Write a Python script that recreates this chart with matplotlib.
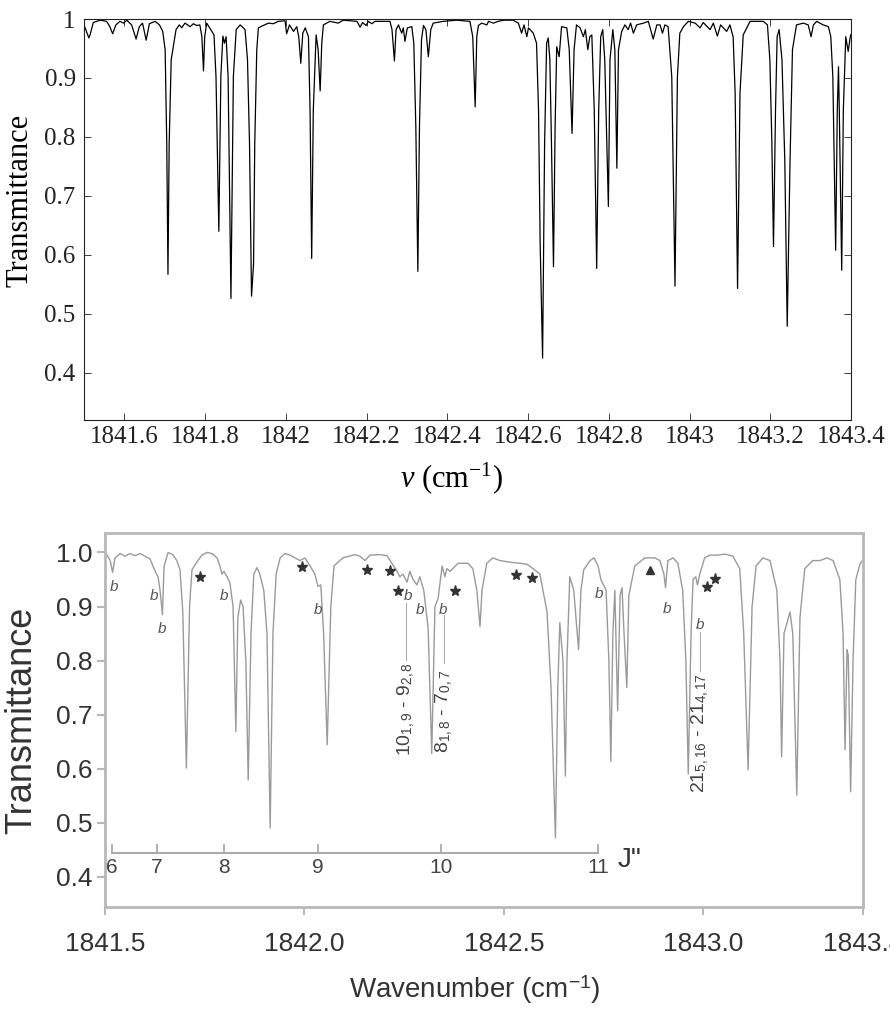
import numpy as np
import matplotlib
matplotlib.use("Agg")
import matplotlib.pyplot as plt

plt.rcParams['mathtext.fontset'] = 'custom'
plt.rcParams['mathtext.rm'] = 'Liberation Sans'
plt.rcParams['mathtext.it'] = 'Liberation Serif:italic'

# ---- top panel: simulated transmittance ----
nu_top = [1841.500, 1841.512, 1841.515, 1841.523, 1841.540, 1841.556, 1841.564, 1841.571, 1841.579, 1841.589,
          1841.598, 1841.606, 1841.618, 1841.629, 1841.637, 1841.645, 1841.654, 1841.662, 1841.676, 1841.687,
          1841.695, 1841.701, 1841.705, 1841.708, 1841.711, 1841.716, 1841.721, 1841.728, 1841.736, 1841.742,
          1841.750, 1841.763, 1841.771, 1841.779, 1841.787, 1841.792, 1841.796, 1841.799, 1841.804, 1841.814,
          1841.822, 1841.827, 1841.834, 1841.839, 1841.844, 1841.848, 1841.852, 1841.857, 1841.864, 1841.870,
          1841.877, 1841.887, 1841.899, 1841.905, 1841.910, 1841.915, 1841.920, 1841.923, 1841.928, 1841.932,
          1841.944, 1841.957, 1841.969, 1841.981, 1841.998, 1842.002, 1842.009, 1842.019, 1842.027, 1842.032,
          1842.037, 1842.042, 1842.048, 1842.056, 1842.060, 1842.064, 1842.068, 1842.075, 1842.080, 1842.085,
          1842.089, 1842.093, 1842.109, 1842.130, 1842.142, 1842.176, 1842.184, 1842.190, 1842.199, 1842.204,
          1842.213, 1842.221, 1842.258, 1842.263, 1842.269, 1842.273, 1842.279, 1842.287, 1842.291, 1842.295,
          1842.301, 1842.312, 1842.317, 1842.322, 1842.327, 1842.331, 1842.336, 1842.341, 1842.347, 1842.353,
          1842.359, 1842.365, 1842.390, 1842.423, 1842.456, 1842.463, 1842.469, 1842.473, 1842.477, 1842.485,
          1842.498, 1842.502, 1842.514, 1842.526, 1842.539, 1842.563, 1842.576, 1842.584, 1842.590, 1842.597,
          1842.601, 1842.605, 1842.613, 1842.621, 1842.626, 1842.630, 1842.636, 1842.641, 1842.646, 1842.650,
          1842.654, 1842.658, 1842.663, 1842.667, 1842.671, 1842.677, 1842.683, 1842.696, 1842.702, 1842.709,
          1842.714, 1842.720, 1842.729, 1842.737, 1842.742, 1842.748, 1842.753, 1842.758, 1842.764, 1842.770,
          1842.775, 1842.780, 1842.785, 1842.790, 1842.799, 1842.803, 1842.810, 1842.815, 1842.820, 1842.824,
          1842.832, 1842.840, 1842.848, 1842.854, 1842.861, 1842.869, 1842.886, 1842.898, 1842.910, 1842.919,
          1842.927, 1842.933, 1842.939, 1842.947, 1842.956, 1842.964, 1842.970, 1842.976, 1842.985, 1842.997,
          1843.014, 1843.026, 1843.034, 1843.051, 1843.059, 1843.069, 1843.077, 1843.092, 1843.100, 1843.108,
          1843.113, 1843.119, 1843.125, 1843.133, 1843.150, 1843.183, 1843.193, 1843.199, 1843.204, 1843.208,
          1843.213, 1843.217, 1843.222, 1843.229, 1843.236, 1843.242, 1843.249, 1843.255, 1843.265, 1843.282,
          1843.294, 1843.301, 1843.307, 1843.315, 1843.331, 1843.344, 1843.350, 1843.355, 1843.362, 1843.366,
          1843.369, 1843.371, 1843.377, 1843.381, 1843.387, 1843.393, 1843.399]
T_top = [0.990, 0.968, 0.973, 0.994, 0.998, 0.996, 0.987, 0.975, 0.990, 0.996,
         0.993, 0.998, 0.990, 0.966, 0.987, 0.993, 0.964, 0.992, 0.996, 0.990,
         0.979, 0.948, 0.789, 0.567, 0.789, 0.931, 0.952, 0.982, 0.990, 0.985,
         0.993, 0.987, 0.992, 0.989, 0.990, 0.970, 0.912, 0.970, 0.993, 0.982,
         0.973, 0.902, 0.640, 0.902, 0.971, 0.959, 0.970, 0.902, 0.526, 0.902,
         0.982, 0.990, 0.982, 0.931, 0.789, 0.530, 0.584, 0.789, 0.948, 0.985,
         0.989, 0.993, 0.992, 0.996, 0.997, 0.975, 0.990, 0.979, 0.987, 0.970,
         0.925, 0.976, 0.985, 0.970, 0.845, 0.594, 0.845, 0.973, 0.948, 0.878,
         0.959, 0.990, 0.996, 0.993, 0.998, 0.996, 0.986, 0.994, 0.989, 0.996,
         0.992, 0.996, 0.996, 0.982, 0.929, 0.982, 0.990, 0.976, 0.985, 0.962,
         0.985, 0.987, 0.959, 0.817, 0.572, 0.817, 0.965, 0.989, 0.982, 0.936,
         0.982, 0.993, 0.996, 0.998, 0.996, 0.970, 0.851, 0.970, 0.989, 0.993,
         0.990, 0.996, 0.993, 0.996, 0.998, 0.998, 0.993, 0.976, 0.990, 0.970,
         0.985, 0.982, 0.976, 0.959, 0.845, 0.618, 0.425, 0.789, 0.959, 0.968,
         0.931, 0.789, 0.580, 0.817, 0.953, 0.936, 0.987, 0.985, 0.948, 0.806,
         0.948, 0.990, 0.985, 0.970, 0.982, 0.948, 0.970, 0.973, 0.845, 0.577,
         0.845, 0.970, 0.982, 0.931, 0.682, 0.931, 0.982, 0.948, 0.747, 0.948,
         0.979, 0.990, 0.982, 0.993, 0.976, 0.990, 0.993, 0.996, 0.966, 0.990,
         0.990, 0.976, 0.990, 0.987, 0.902, 0.547, 0.902, 0.976, 0.987, 0.996,
         0.993, 0.985, 0.994, 0.982, 0.993, 0.971, 0.990, 0.979, 0.990, 0.970,
         0.874, 0.543, 0.874, 0.973, 0.996, 0.996, 0.990, 0.931, 0.789, 0.614,
         0.845, 0.970, 0.982, 0.931, 0.760, 0.479, 0.760, 0.948, 0.990, 0.993,
         0.990, 0.970, 0.990, 0.996, 0.990, 0.987, 0.970, 0.902, 0.608, 0.845,
         0.919, 0.845, 0.574, 0.845, 0.970, 0.945, 0.973]

top_xticks = [1841.6, 1841.8, 1842.0, 1842.2, 1842.4, 1842.6, 1842.8, 1843.0, 1843.2, 1843.4]
top_xticklabels = ['1841.6', '1841.8', '1842', '1842.2', '1842.4', '1842.6', '1842.8', '1843', '1843.2', '1843.4']
top_yticks = [0.4, 0.5, 0.6, 0.7, 0.8, 0.9, 1.0]
top_yticklabels = ['0.4', '0.5', '0.6', '0.7', '0.8', '0.9', '1']

# ---- bottom panel: measured transmittance ----
nu_bot = [1841.500, 1841.503, 1841.513, 1841.519, 1841.525, 1841.538, 1841.550, 1841.563, 1841.575, 1841.588,
          1841.600, 1841.613, 1841.620, 1841.628, 1841.633, 1841.638, 1841.644, 1841.648, 1841.658, 1841.670,
          1841.680, 1841.688, 1841.695, 1841.704, 1841.712, 1841.718, 1841.731, 1841.743, 1841.756, 1841.768,
          1841.781, 1841.788, 1841.793, 1841.798, 1841.806, 1841.813, 1841.821, 1841.828, 1841.833, 1841.840,
          1841.846, 1841.853, 1841.859, 1841.866, 1841.873, 1841.881, 1841.888, 1841.898, 1841.906, 1841.914,
          1841.921, 1841.929, 1841.939, 1841.951, 1841.964, 1841.976, 1841.989, 1842.001, 1842.014, 1842.026,
          1842.034, 1842.041, 1842.048, 1842.057, 1842.066, 1842.074, 1842.096, 1842.127, 1842.139, 1842.152,
          1842.164, 1842.189, 1842.207, 1842.219, 1842.232, 1842.239, 1842.247, 1842.257, 1842.264, 1842.272,
          1842.282, 1842.289, 1842.299, 1842.310, 1842.319, 1842.327, 1842.335, 1842.345, 1842.352, 1842.357,
          1842.365, 1842.385, 1842.410, 1842.422, 1842.432, 1842.440, 1842.445, 1842.457, 1842.472, 1842.490,
          1842.515, 1842.540, 1842.558, 1842.573, 1842.590, 1842.608, 1842.618, 1842.629, 1842.635, 1842.640,
          1842.648, 1842.654, 1842.658, 1842.665, 1842.675, 1842.687, 1842.693, 1842.700, 1842.716, 1842.726,
          1842.736, 1842.743, 1842.756, 1842.763, 1842.768, 1842.773, 1842.778, 1842.785, 1842.791, 1842.796,
          1842.801, 1842.808, 1842.813, 1842.828, 1842.853, 1842.878, 1842.891, 1842.901, 1842.905, 1842.911,
          1842.924, 1842.936, 1842.948, 1842.956, 1842.962, 1842.969, 1842.974, 1842.981, 1842.985, 1842.991,
          1843.003, 1843.016, 1843.036, 1843.054, 1843.074, 1843.091, 1843.101, 1843.112, 1843.122, 1843.132,
          1843.149, 1843.167, 1843.184, 1843.192, 1843.196, 1843.202, 1843.217, 1843.224, 1843.234, 1843.242,
          1843.254, 1843.274, 1843.292, 1843.310, 1843.325, 1843.342, 1843.350, 1843.355, 1843.360, 1843.363,
          1843.369, 1843.375, 1843.382, 1843.393, 1843.400]
T_bot = [1.000, 0.998, 0.985, 0.963, 0.990, 0.998, 0.993, 0.998, 0.994, 0.998,
         0.993, 0.988, 0.975, 0.962, 0.955, 0.930, 0.885, 0.974, 1.000, 0.996,
         0.985, 0.968, 0.890, 0.601, 0.900, 0.968, 0.983, 0.995, 1.000, 0.998,
         0.990, 0.975, 0.960, 0.965, 0.955, 0.944, 0.900, 0.669, 0.880, 0.912,
         0.900, 0.800, 0.579, 0.850, 0.960, 0.972, 0.960, 0.930, 0.850, 0.490,
         0.850, 0.960, 0.990, 0.998, 0.995, 0.990, 0.985, 0.990, 0.975, 0.960,
         0.937, 0.940, 0.850, 0.644, 0.900, 0.975, 0.990, 0.996, 0.993, 0.985,
         0.995, 0.996, 0.994, 0.980, 0.965, 0.955, 0.960, 0.945, 0.965, 0.950,
         0.940, 0.955, 0.930, 0.860, 0.628, 0.900, 0.915, 0.975, 0.955, 0.970,
         0.965, 0.980, 0.980, 0.970, 0.930, 0.863, 0.930, 0.980, 0.990, 0.985,
         0.982, 0.980, 0.978, 0.970, 0.960, 0.890, 0.750, 0.472, 0.750, 0.870,
         0.800, 0.586, 0.800, 0.955, 0.930, 0.820, 0.930, 0.968, 0.985, 0.990,
         0.975, 0.950, 0.930, 0.800, 0.613, 0.850, 0.930, 0.707, 0.920, 0.935,
         0.850, 0.750, 0.920, 0.975, 0.990, 0.990, 0.985, 0.960, 0.935, 0.985,
         0.990, 0.980, 0.930, 0.800, 0.590, 0.850, 0.950, 0.955, 0.940, 0.960,
         0.990, 0.995, 0.995, 0.997, 0.993, 0.970, 0.850, 0.598, 0.900, 0.975,
         0.990, 0.985, 0.930, 0.800, 0.622, 0.850, 0.890, 0.850, 0.551, 0.880,
         0.970, 0.985, 0.985, 0.990, 0.985, 0.950, 0.850, 0.635, 0.820, 0.810,
         0.557, 0.800, 0.950, 0.980, 0.986]

bot_xticks = [1841.5, 1842.0, 1842.5, 1843.0, 1843.4]
bot_xticklabels = ['1841.5', '1842.0', '1842.5', '1843.0', '1843.4']
bot_yticks = [0.4, 0.5, 0.6, 0.7, 0.8, 0.9, 1.0]
bot_yticklabels = ['0.4', '0.5', '0.6', '0.7', '0.8', '0.9', '1.0']

# rotational quantum number scale J''
j_vals = [6, 7, 8, 9, 10, 11]
j_pos = [1841.517, 1841.630, 1841.798, 1842.034, 1842.342, 1842.736]
j_axis_T = 0.444

# band markers
b_nu = [1841.523, 1841.623, 1841.642, 1841.798, 1842.035, 1842.260, 1842.289, 1842.348, 1842.739, 1842.910, 1842.991]
b_T = [0.937, 0.920, 0.858, 0.920, 0.894, 0.919, 0.894, 0.894, 0.924, 0.896, 0.865]
star_nu = [1841.738, 1841.993, 1842.156, 1842.214, 1842.235, 1842.377, 1842.529, 1842.570, 1843.008, 1843.028]
star_T = [0.955, 0.974, 0.967, 0.966, 0.928, 0.929, 0.959, 0.953, 0.936, 0.951]
tri_nu = [1842.867]
tri_T = [0.967]

# line assignments
assign_text = [r'10$_{\mathdefault{1,9}}$ - 9$_{\mathdefault{2,8}}$',
               r'8$_{\mathdefault{1,8}}$ - 7$_{\mathdefault{0,7}}$',
               r'21$_{\mathdefault{5,16}}$ - 21$_{\mathdefault{4,17}}$']
assign_nu = [1842.254, 1842.350, 1842.991]
assign_T = [0.711, 0.705, 0.666]
leader_top = [0.906, 0.885, 0.853]
leader_bot = [0.801, 0.795, 0.781]

W, H = 890, 1013
fig = plt.figure(figsize=(W / 100, H / 100), dpi=100)

# top axes
ax1 = fig.add_axes([84 / W, 1 - 420 / H, 767 / W, 401 / H])
ax1.plot(nu_top, T_top, color='black', lw=0.9)
ax1.set_xlim(1841.5, 1843.4)
ax1.set_ylim(0.32, 1.0)
ax1.set_xticks(top_xticks)
ax1.set_xticklabels(top_xticklabels, fontfamily='Liberation Serif')
ax1.set_yticks(top_yticks)
ax1.set_yticklabels(top_yticklabels, fontfamily='Liberation Serif')
ax1.tick_params(direction='in', top=True, right=True, length=5, width=0.6,
                labelsize=18, colors='#222222')
ax1.tick_params(axis='x', pad=4)
ax1.tick_params(axis='y', pad=6)
for s in ax1.spines.values():
    s.set_linewidth(0.8)
    s.set_color('#222222')
fig.text(20 / W, 1 - 200 / H, 'Transmittance', rotation=90, ha='center', va='center',
         fontsize=22, fontfamily='Liberation Serif')
fig.text(452 / W, 1 - 478 / H, r'$\nu$ (cm$^{\mathdefault{-1}}$)', ha='center', va='center',
         fontsize=22, fontfamily='Liberation Serif')

# bottom axes
grey_frame = '#b8b8b8'
ax2 = fig.add_axes([105 / W, 1 - 907 / H, 758 / W, 374 / H])
ax2.plot(nu_bot, T_bot, color='#9a9a9a', lw=1.0)
ax2.set_xlim(1841.5, 1843.4)
ax2.set_ylim(0.344, 1.036)
ax2.set_xticks(bot_xticks)
ax2.set_xticklabels(bot_xticklabels, fontfamily='Liberation Sans')
ax2.set_yticks(bot_yticks)
ax2.set_yticklabels(bot_yticklabels, fontfamily='Liberation Sans')
ax2.tick_params(direction='out', length=6, width=1.5, color=grey_frame,
                labelcolor='#333333', labelsize=19)
ax2.tick_params(axis='x', pad=12)
ax2.tick_params(axis='y', pad=3)
for s in ax2.spines.values():
    s.set_linewidth(2.0)
    s.set_color(grey_frame)

# J'' scale inside the lower panel
ax2.plot([j_pos[0], j_pos[-1]], [j_axis_T, j_axis_T], color='#aaaaaa', lw=1.5)
ax2.vlines(j_pos, j_axis_T, j_axis_T + 0.017, color='#aaaaaa', lw=1.3)
for j, p in zip(j_vals, j_pos):
    ax2.text(p, j_axis_T - 0.027, str(j), ha='center', va='center', fontsize=15,
             color='#444444', fontfamily='Liberation Sans')
ax2.text(1842.816, 0.431, 'J"', ha='center', va='center', fontsize=20,
         color='#333333', fontfamily='Liberation Sans')

# b / star / triangle markers
for n, t in zip(b_nu, b_T):
    ax2.text(n, t, 'b', ha='center', va='center', fontsize=11, style='italic',
             color='#555555', fontfamily='Liberation Sans')
ax2.plot(star_nu, star_T, ls='none', marker='*', ms=8, color='#333333')
ax2.plot(tri_nu, tri_T, ls='none', marker='^', ms=6, color='#333333')

for txt, n, t, lt, lb in zip(assign_text, assign_nu, assign_T, leader_top, leader_bot):
    ax2.plot([n, n], [lb, lt], color='#aaaaaa', lw=0.8)
    ax2.text(n, t, txt, rotation=90, ha='center', va='center', fontsize=14,
             color='#444444', fontfamily='Liberation Sans')

fig.text(22 / W, 1 - 720 / H, 'Transmittance', rotation=90, ha='center', va='center',
         fontsize=26, color='#333333', fontfamily='Liberation Sans')
fig.text(475 / W, 1 - 990 / H, r'Wavenumber (cm$^{\mathdefault{-1}}$)', ha='center', va='center',
         fontsize=20, color='#333333', fontfamily='Liberation Sans')

fig.savefig('out.png', dpi=100)
